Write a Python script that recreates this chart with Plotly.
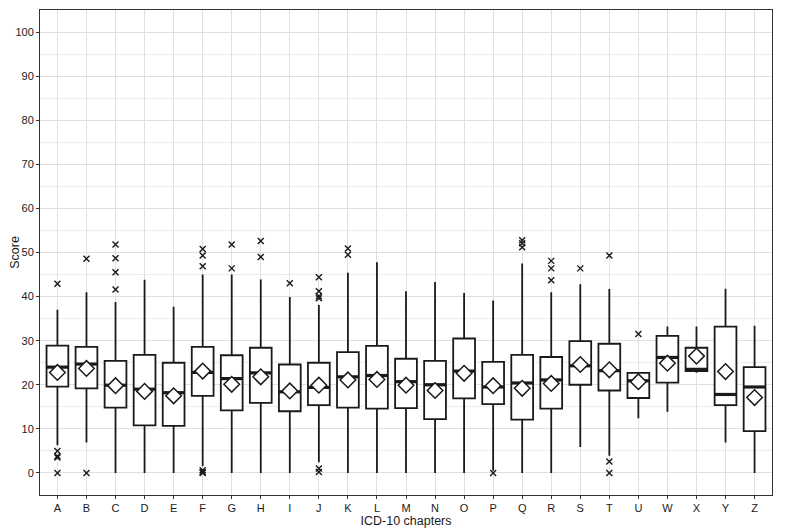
import plotly.graph_objects as go

# ICD-10 chapters and box statistics
chapters = ["A", "B", "C", "D", "E", "F", "G", "H", "I", "J", "K", "L", "M",
            "N", "O", "P", "Q", "R", "S", "T", "U", "W", "X", "Y", "Z"]
q1 = [19.6, 19.2, 14.8, 10.8, 10.7, 17.5, 14.2, 15.9, 14.0, 15.4, 14.8, 14.6, 14.7,
      12.2, 16.9, 15.6, 12.1, 14.6, 20.0, 18.7, 17.0, 20.5, 23.1, 15.4, 9.5]
median = [24.0, 24.7, 19.9, 19.0, 18.2, 22.8, 21.4, 22.7, 18.4, 19.4, 21.8, 22.1, 20.7,
          20.0, 23.1, 19.5, 20.4, 21.1, 24.3, 23.2, 20.9, 26.2, 23.5, 17.8, 19.5]
q3 = [28.9, 28.6, 25.4, 26.8, 25.0, 28.6, 26.7, 28.4, 24.6, 25.0, 27.4, 28.8, 25.9,
      25.4, 30.5, 25.2, 26.8, 26.3, 29.9, 29.3, 22.7, 31.1, 28.4, 33.2, 24.0]
lower = [6.3, 6.9, 0, 0, 0, 1.5, 0, 0, 0, 2.4, 0, 0, 0,
         0, 0, 0.5, 0, 0, 5.9, 3.9, 12.4, 13.9, 22.7, 6.9, 0]
upper = [37.0, 41.0, 38.8, 43.8, 37.7, 45.0, 45.0, 43.9, 39.9, 38.1, 45.4, 47.8, 41.2,
         43.3, 40.8, 39.1, 47.5, 41.0, 42.8, 41.7, 22.8, 33.2, 33.2, 41.8, 33.4]
mean = [22.8, 23.7, 19.8, 18.5, 17.5, 23.1, 20.1, 21.8, 18.6, 19.9, 21.1, 21.2, 19.9,
        18.7, 22.6, 19.8, 19.2, 20.3, 24.6, 23.4, 20.7, 24.9, 26.5, 23.0, 17.1]

# outliers per chapter
outliers = {
    "A": [42.9, 5.0, 3.8, 3.5, 0],
    "B": [48.6, 0],
    "C": [51.8, 48.7, 45.5, 41.6],
    "F": [50.8, 49.3, 46.9, 0.6, 0.2, 0],
    "G": [51.8, 46.4],
    "H": [52.6, 49.0],
    "I": [43.0],
    "J": [44.4, 41.2, 40.1, 39.6, 1.0, 0.2],
    "K": [50.9, 49.5],
    "P": [0],
    "Q": [52.8, 52.1, 51.2],
    "R": [48.1, 46.4, 43.7],
    "S": [46.4],
    "T": [49.3, 2.6, 0],
    "U": [31.5],
}

out_x = [c for c, vals in outliers.items() for _ in vals]
out_y = [v for vals in outliers.values() for v in vals]

fig = go.Figure()

# boxes from precomputed stats
fig.add_trace(go.Box(
    x=chapters, q1=q1, median=median, q3=q3,
    lowerfence=lower, upperfence=upper,
    boxpoints=False, width=0.75, whiskerwidth=0,
    fillcolor="white", line=dict(color="#1a1a1a", width=1.8),
    showlegend=False, hoverinfo="skip",
))

# thicker median bar like ggplot (line-ew spans 1.4 x size)
fig.add_trace(go.Scatter(
    x=chapters, y=median, mode="markers",
    marker=dict(symbol="line-ew", size=15.5, line=dict(color="#1a1a1a", width=3.2)),
    showlegend=False, hoverinfo="skip",
))

# outliers
fig.add_trace(go.Scatter(
    x=out_x, y=out_y, mode="markers",
    marker=dict(symbol="x-thin", size=6, line=dict(color="#1a1a1a", width=1.4)),
    showlegend=False,
))

# means
fig.add_trace(go.Scatter(
    x=chapters, y=mean, mode="markers",
    marker=dict(symbol="diamond", size=12, color="white",
                line=dict(color="#1a1a1a", width=1.5)),
    showlegend=False,
))

# page body has an 8px margin, so the figure is sized to fit inside the window
fig.update_layout(
    width=792, height=522,
    margin=dict(l=32, r=28, t=2, b=35),
    plot_bgcolor="white", paper_bgcolor="white",
    font=dict(family="Liberation Sans, Arial, sans-serif", size=11, color="#1a1a1a"),
)
fig.update_xaxes(
    type="category", categoryorder="array", categoryarray=chapters,
    range=[-0.6, 24.6], automargin=False,
    showgrid=True, gridcolor="#e0e0e0", gridwidth=1.2,
    showline=True, mirror=True, linecolor="#333333", linewidth=1,
    ticks="outside", ticklen=3, tickcolor="#333333",
    title=dict(text="ICD-10 chapters", font=dict(size=12.5), standoff=0),
    zeroline=False,
)
fig.update_yaxes(
    range=[-5, 105], tickmode="array", tickvals=list(range(0, 101, 10)),
    automargin=False,
    showgrid=True, gridcolor="#e0e0e0", gridwidth=1.2,
    minor=dict(tickvals=list(range(5, 101, 10)), showgrid=True,
               gridcolor="#ededed", gridwidth=0.6, ticks=""),
    showline=True, mirror=True, linecolor="#333333", linewidth=1,
    ticks="outside", ticklen=3, tickcolor="#333333",
    title=dict(text="Score", font=dict(size=12.5), standoff=4),
    zeroline=False,
)

fig.write_html("out.html")
